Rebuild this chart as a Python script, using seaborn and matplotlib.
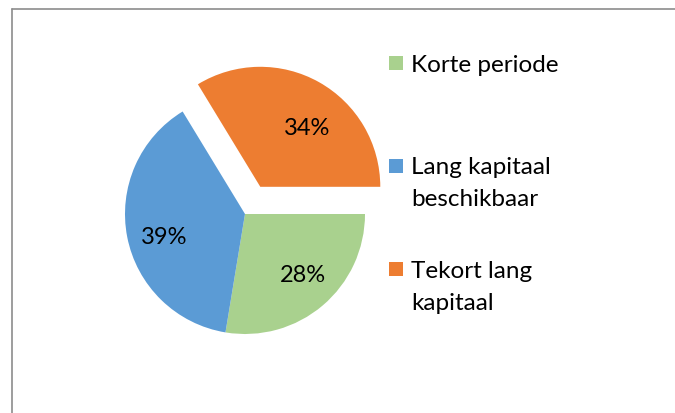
import seaborn as sns
import matplotlib.pyplot as plt
from matplotlib.patches import Rectangle
from matplotlib.lines import Line2D

labels = ['Korte periode', 'Lang kapitaal beschikbaar', 'Tekort lang kapitaal']
legend_lines = [['Korte periode'], ['Lang kapitaal', 'beschikbaar'], ['Tekort lang', 'kapitaal']]
shares = [27.6, 38.7, 33.7]
explode = [0, 0, 0.26]
colors = ['#A9D18E', '#5B9BD5', '#ED7D31']

sns.set_theme(style='white')
plt.rcParams['font.family'] = ['Lato', 'DejaVu Sans']

W, H = 675, 414
fig = plt.figure(figsize=(W / 100, H / 100), dpi=100)
fig.patch.set_facecolor('white')

# pie centre and radius in pixels
cx, cy, r = 245, 215, 120
ax = fig.add_axes([0, 0, 1, 1])
wedges, texts, autotexts = ax.pie(
    shares, explode=explode, colors=colors, startangle=0, counterclock=False,
    autopct='%.0f%%', pctdistance=0.69, radius=1,
    wedgeprops={'linewidth': 0},
    textprops={'fontsize': 17, 'color': 'black'})
ax.set_xlim(-cx / r, (W - cx) / r)
ax.set_ylim(-(H - cy) / r, cy / r)
ax.set_aspect('auto')
ax.axis('off')

# nudge the percentage labels to where the original puts them (pixels)
nudges = [(4, 3), (0, -7), (6, -13)]
for t, (dx, dy) in zip(autotexts, nudges):
    x, y = t.get_position()
    t.set_position((x + dx / r, y + dy / r))

# chart frame (top and left edge)
fx, fy = 12 / W, 1 - 10 / H
fig.add_artist(Line2D([fx, fx], [0, fy], color='#8C8C8C', lw=1.2, transform=fig.transFigure))
fig.add_artist(Line2D([fx, 1], [fy, fy], color='#8C8C8C', lw=1.2, transform=fig.transFigure))

# legend, drawn by hand so the marker sits on the first line
marker_y = [64, 167, 270]
for color, lines, my in zip(colors, legend_lines, marker_y):
    fig.add_artist(Rectangle((389 / W, 1 - (my + 7) / H), 14 / W, 14 / H,
                             facecolor=color, edgecolor='none', transform=fig.transFigure))
    for i, line in enumerate(lines):
        fig.text(411 / W, 1 - (my + 1 + i * 32) / H, line, fontsize=17.5,
                 color='black', va='center', ha='left')

fig.savefig('out.png', dpi=100)
